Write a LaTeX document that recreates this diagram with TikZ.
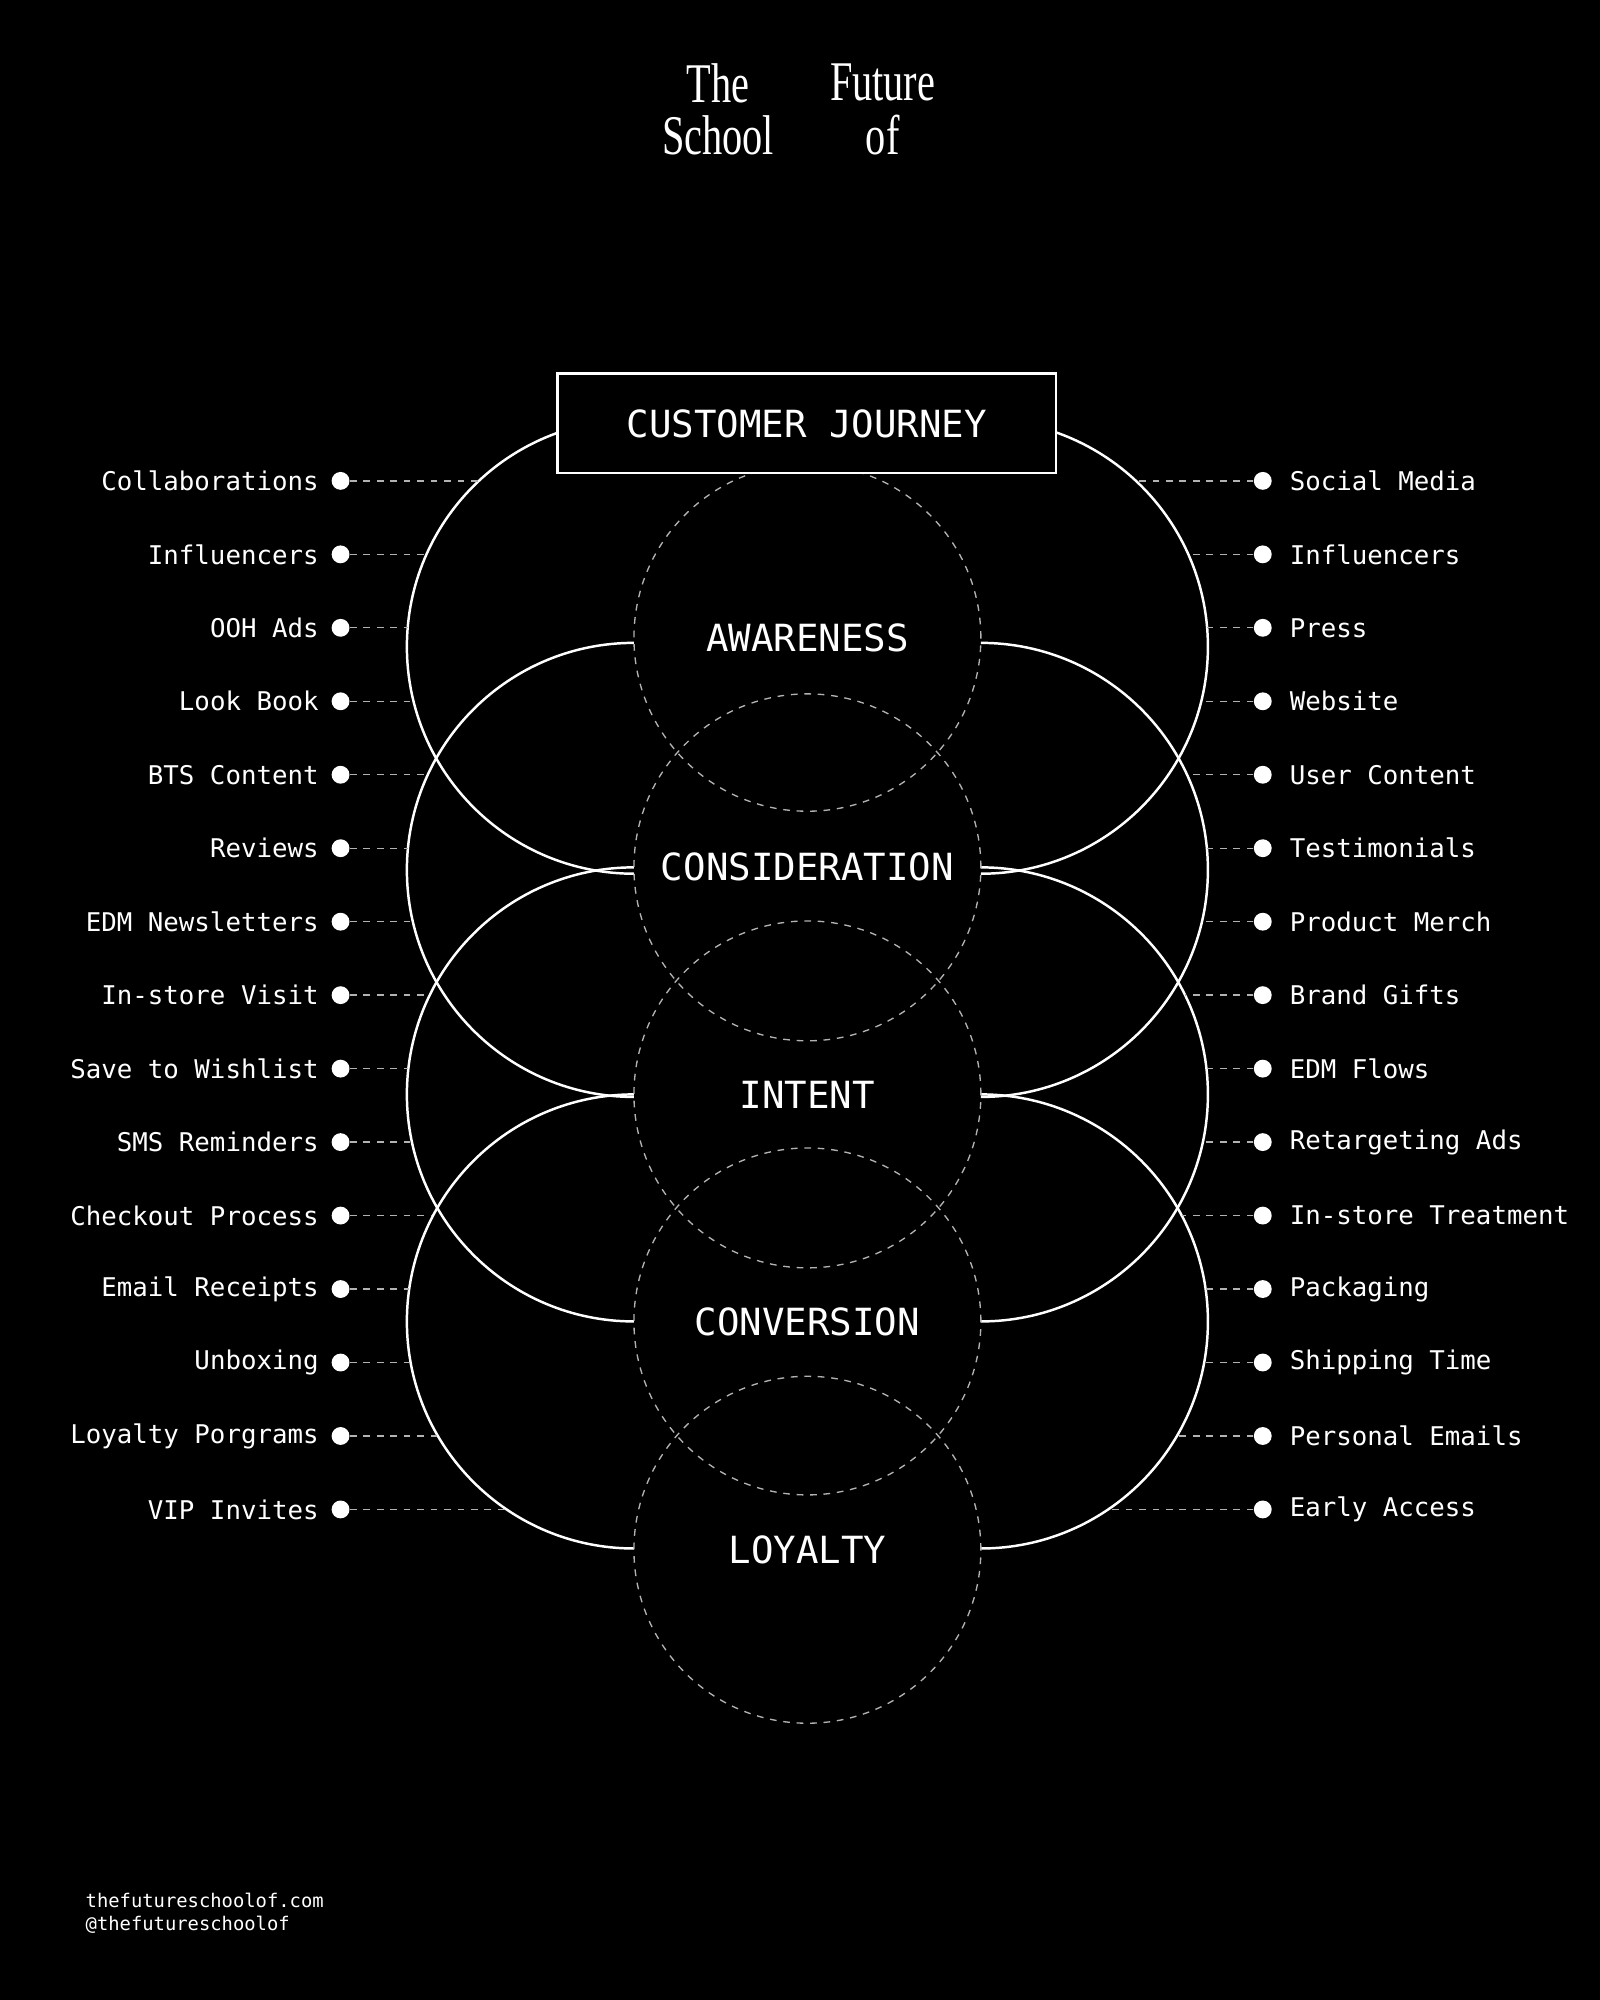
\documentclass[tikz,border=0pt]{standalone}
\usepackage{fontspec}
\setmainfont{Liberation Serif}
\setmonofont{DejaVu Sans Mono}
\newcommand{\narrow}[1]{\scalebox{0.72}[1]{#1}}
\begin{document}
\begin{tikzpicture}[x=0.02cm,y=-0.02cm,
  every node/.style={text=white},
  ring/.style={draw=white,line width=1.1pt},
  stage/.style={draw=white!70!black,dashed,line width=0.6pt},
  link/.style={draw=white!70!black,dashed,line width=0.6pt},
  dot/.style={circle,fill=white,inner sep=0pt,minimum size=0.28cm},
  lbl/.style={font=\ttfamily\fontsize{11.5}{13}\selectfont},
  ttl/.style={font=\fontsize{25}{27}\selectfont}]
  \fill[black] (0,0) rectangle (1254,1568);
  \useasboundingbox (0,0) rectangle (1254,1568);
  % title
  \node[ttl] (the) at (563,65) {\narrow{The}};
  \node[ttl] (future) at (692,65) {\narrow{Future}};
  \node[ttl] (school) at (563,106) {\narrow{School}};
  \node[ttl] (of) at (692,106) {\narrow{of}};
  % big arcs
  \begin{scope}
    \clip (0,0) rectangle (497,1568);
    \foreach \cy in {507,682,858,1036}
      \draw[ring] (497,\cy) circle[radius=178*0.02cm];
  \end{scope}
  \begin{scope}
    \clip (769,0) rectangle (1254,1568);
    \foreach \cy in {507,682,858,1036}
      \draw[ring] (769,\cy) circle[radius=178*0.02cm];
  \end{scope}
  % stages
  \foreach \cy/\name/\txt in {500/aw/AWARENESS,680/co/CONSIDERATION,858/in/INTENT,1036/cv/CONVERSION,1215/lo/LOYALTY} {
    \draw[stage] (633,\cy) circle[radius=136*0.02cm];
    \node[font=\ttfamily\fontsize{16.7}{18}\selectfont] (\name) at (633,\cy) {\txt};
  }
  \node[draw=white,fill=black,line width=1.1pt,minimum width=391*0.02cm,minimum height=78*0.02cm,
    font=\ttfamily\fontsize{16.7}{18}\selectfont] (journey) at (632.5,332) {CUSTOMER JOURNEY};
  % touchpoints
  \foreach \l/\r/\d [count=\i] in {Collaborations/Social Media/122,Influencers/Influencers/163,OOH Ads/Press/177,
    Look Book/Website/173,BTS Content/User Content/162,Reviews/Testimonials/177,EDM Newsletters/Product Merch/173,
    In-store Visit/Brand Gifts/160,Save to Wishlist/EDM Flows/177,SMS Reminders/Retargeting Ads/174,
    Checkout Process/In-store Treatment/158,Email Receipts/Packaging/176,Unboxing/Shipping Time/175,
    Loyalty Porgrams/Personal Emails/154,VIP Invites/Early Access/100} {
    \pgfmathsetmacro{\y}{377+57.6*(\i-1)}
    \node[dot] (ld\i) at (267,\y) {};
    \node[lbl,anchor=east] (lt\i) at (256,\y) {\l};
    \coordinate (le\i) at (497-\d,\y);
    \draw[link] (ld\i) -- (le\i);
    \node[dot] (rd\i) at (990,\y) {};
    \node[lbl,anchor=west] (rt\i) at (1005,\y) {\r};
    \coordinate (re\i) at (769+\d,\y);
    \draw[link] (rd\i) -- (re\i);
  }
  % footer
  \node[font=\ttfamily\fontsize{8.4}{10}\selectfont,anchor=west,align=left] (web) at (61,1500)
    {thefutureschoolof.com\\@thefutureschoolof};
\end{tikzpicture}
\end{document}
